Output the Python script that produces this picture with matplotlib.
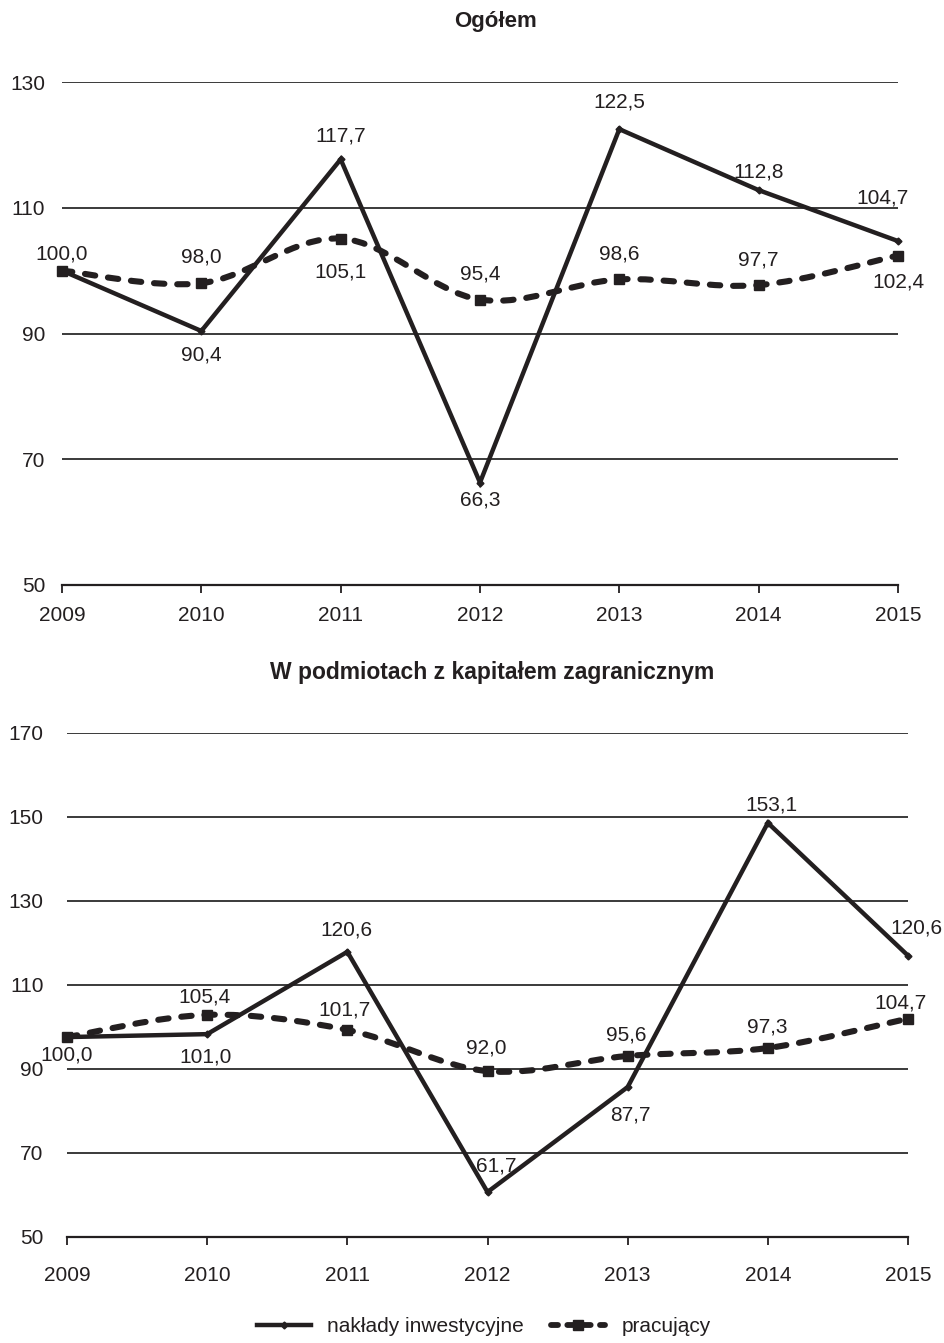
import matplotlib
matplotlib.use("Agg")
import matplotlib.pyplot as plt
from matplotlib.path import Path
from matplotlib.patches import PathPatch
from matplotlib.lines import Line2D

plt.rcParams['font.family'] = ['Liberation Sans', 'DejaVu Sans']

years = [2009, 2010, 2011, 2012, 2013, 2014, 2015]

# Panel 1: Ogółem
top_title = "Ogółem"
top_invest = [100.0, 90.4, 117.7, 66.3, 122.5, 112.8, 104.7]
top_invest_labels = ["100,0", "90,4", "117,7", "66,3", "122,5", "112,8", "104,7"]
top_work = [100.0, 98.0, 105.1, 95.4, 98.6, 97.7, 102.4]
top_work_labels = ["", "98,0", "105,1", "95,4", "98,6", "97,7", "102,4"]
top_yticks = [50, 70, 90, 110, 130]

# Panel 2: W podmiotach z kapitałem zagranicznym (positions as drawn in the picture)
bot_title = "W podmiotach z kapitałem zagranicznym"
bot_invest = [97.6, 98.3, 117.9, 60.7, 85.7, 148.6, 117.0]
bot_invest_labels = ["100,0", "101,0", "120,6", "61,7", "87,7", "153,1", "120,6"]
bot_work = [97.6, 102.9, 99.3, 89.5, 93.1, 95.0, 102.0]
bot_work_labels = ["", "105,4", "101,7", "92,0", "95,6", "97,3", "104,7"]
bot_yticks = [50, 70, 90, 110, 130, 150, 170]

legend_labels = ["nakłady inwestycyjne", "pracujący"]

C = '#231f20'
FS = 15
W, H = 945, 1343
fig = plt.figure(figsize=(W / 100, H / 100), dpi=100)


def ax_at(l, r, t, b):
    return fig.add_axes([l / W, 1 - b / H, (r - l) / W, (b - t) / H])


def smooth_path(xs, ys):
    verts = [(xs[0], ys[0])]
    codes = [Path.MOVETO]
    n = len(xs)
    for i in range(n - 1):
        x0, y0 = (xs[i - 1], ys[i - 1]) if i > 0 else (xs[i], ys[i])
        x1, y1 = xs[i], ys[i]
        x2, y2 = xs[i + 1], ys[i + 1]
        x3, y3 = (xs[i + 2], ys[i + 2]) if i + 2 < n else (x2, y2)
        c1 = (x1 + (x2 - x0) / 6, y1 + (y2 - y0) / 6)
        c2 = (x2 - (x3 - x1) / 6, y2 - (y3 - y1) / 6)
        verts += [c1, c2, (x2, y2)]
        codes += [Path.CURVE4] * 3
    return Path(verts, codes)


def panel(ax, inv, inv_lab, inv_off, wrk, wrk_lab, wrk_off, yticks, ypad, xpad):
    ax.set_xlim(years[0], years[-1])
    ax.set_ylim(yticks[0], yticks[-1])
    for y in yticks[1:]:
        ax.axhline(y, color='#2b2b2b', lw=1.3, zorder=1)
    for s in ['top', 'right', 'left']:
        ax.spines[s].set_visible(False)
    ax.spines['bottom'].set_color(C)
    ax.spines['bottom'].set_linewidth(1.6)
    ax.spines['bottom'].set_zorder(1)
    ax.set_yticks(yticks)
    ax.set_yticklabels([str(v) for v in yticks])
    ax.set_xticks(years)
    ax.set_xticklabels([str(v) for v in years])
    ax.tick_params(axis='y', length=0, pad=ypad, labelsize=FS, labelcolor=C)
    ax.tick_params(axis='x', length=6, width=1.3, color=C, direction='out',
                   pad=xpad, labelsize=FS, labelcolor=C)

    ax.plot(years, inv, color=C, lw=3.2, marker='D', ms=3.5, zorder=4,
            solid_joinstyle='miter', clip_on=False)
    pp = PathPatch(smooth_path(years, wrk), fill=False, edgecolor=C, lw=4.4,
                   linestyle=(0, (1.7, 2.1)), zorder=5, clip_on=False)
    pp.set_capstyle('round')
    ax.add_patch(pp)
    ax.plot(years, wrk, linestyle='none', marker='s', ms=7.5, color=C,
            zorder=6, clip_on=False)

    for x, y, t, (dx, dy) in zip(years, inv, inv_lab, inv_off):
        if t:
            ax.annotate(t, (x, y), xytext=(dx, dy), textcoords='offset pixels',
                        ha='center', va='center', fontsize=FS, color=C, zorder=7)
    for x, y, t, (dx, dy) in zip(years, wrk, wrk_lab, wrk_off):
        if t:
            ax.annotate(t, (x, y), xytext=(dx, dy), textcoords='offset pixels',
                        ha='center', va='center', fontsize=FS, color=C, zorder=7)


ax1 = ax_at(62, 898, 82, 585)
panel(ax1, top_invest, top_invest_labels,
      [(0, 17), (0, -24), (0, 23), (0, -17), (0, 27), (0, 18), (-16, 43)],
      top_work, top_work_labels,
      [(0, 0), (0, 26), (0, -33), (0, 26), (0, 25), (0, 25), (0, -26)],
      top_yticks, ypad=12, xpad=9)

ax2 = ax_at(67, 908, 733, 1237)
panel(ax2, bot_invest, bot_invest_labels,
      [(0, -18), (-2, -23), (-1, 22), (9, 26), (3, -28), (4, 18), (8, 28)],
      bot_work, bot_work_labels,
      [(0, 0), (-3, 18), (-3, 20), (-1, 23), (-1, 21), (-1, 21), (-8, 16)],
      bot_yticks, ypad=17, xpad=15)

fig.text(496 / W, 1 - 22 / H, top_title, ha='center', va='center',
         fontsize=16, fontweight='bold', color=C)
fig.text(492 / W, 1 - 673 / H, bot_title, ha='center', va='center',
         fontsize=16.5, fontweight='bold', color=C)

h1 = Line2D([], [], color=C, lw=3.2, marker='D', ms=3.5)
h2 = Line2D([], [], color=C, lw=4.2, linestyle=(0, (1.2, 1.6)),
            dash_capstyle='round', marker='s', ms=7.5)
fig.legend([h1, h2], legend_labels, loc='center', ncol=2,
           bbox_to_anchor=(484 / W, 1 - 1327 / H), frameon=False,
           fontsize=FS, handlelength=2.6, columnspacing=1.3, handletextpad=0.8,
           labelcolor=C)

fig.savefig('out.png', dpi=100)
